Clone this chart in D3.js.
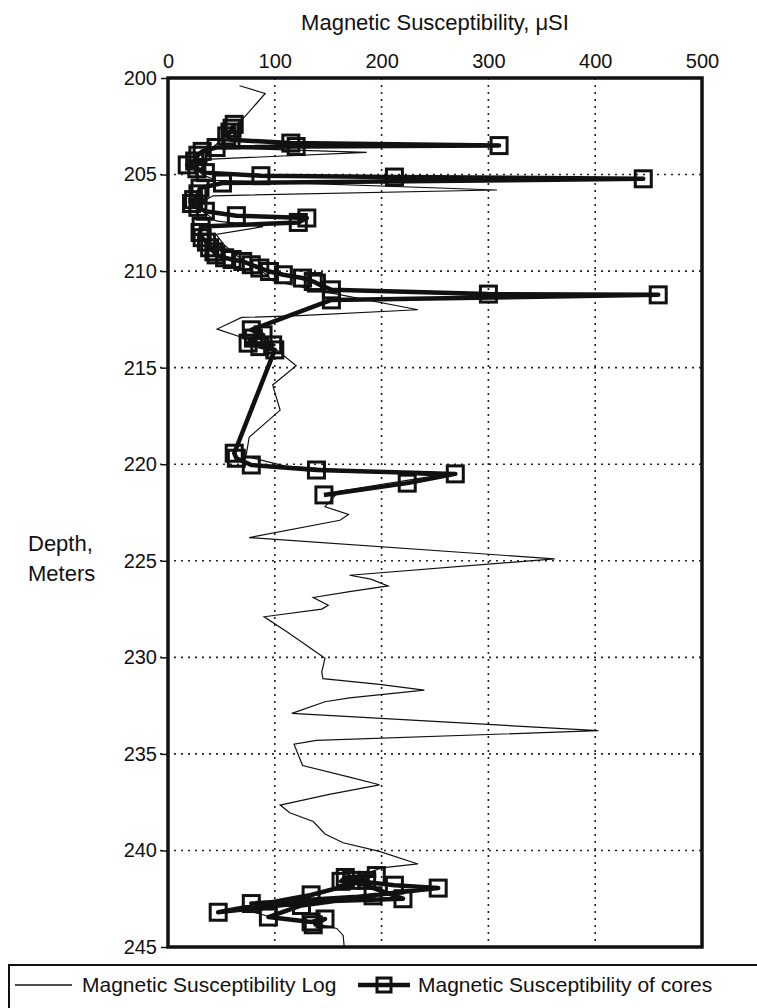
<!DOCTYPE html>
<meta charset="utf-8">
<style>
  body { margin: 0; background: #fff; }
  svg text { font-family: "Liberation Sans", Arial, sans-serif; fill: #111; }
</style>
<body>
<script src="https://cdn.jsdelivr.net/npm/d3@7"></script>
<script>
// depth ticks (m) and susceptibility ticks (uSI)
var depthTicks = [200, 205, 210, 215, 220, 225, 230, 235, 240, 245];
var suscTicks = [0, 100, 200, 300, 400, 500];

// thin log line: [depth, value]
var logDepth = [200.4, 200.8, 202.0, 202.7, 203.2, 203.6, 203.85, 204.2, 204.6, 205.0, 205.3, 205.8, 206.1, 206.5, 207.0, 207.4, 207.7, 208.1, 208.6, 209.1, 209.6, 210.0, 210.5, 211.0, 212.0, 212.3, 212.4, 213.0, 213.5, 214.0, 214.9, 215.9, 217.2, 218.6, 219.6, 220.1, 220.6, 221.4, 222.2, 222.6, 222.9, 223.8, 224.9, 225.75, 225.95, 226.3, 226.6, 226.9, 227.3, 227.5, 227.9, 228.7, 230.05, 230.75, 231.1, 231.4, 231.7, 232.1, 232.3, 232.9, 233.8, 234.3, 234.5, 235.6, 236.2, 236.6, 237.1, 237.65, 238.05, 238.5, 239.15, 239.6, 240.05, 240.7, 240.9, 241.4, 242.0, 242.6, 243.2, 243.5, 243.8, 244.04, 244.4, 245.0];
var logValue = [67, 91, 72, 58, 50, 42, 186, 40, 25, 32, 45, 308, 42, 30, 35, 45, 89, 45, 52, 62, 75, 88, 98, 140, 234, 123, 69, 46, 73, 100, 120, 98, 105, 76, 73, 110, 250, 160, 147, 169, 161, 76, 362, 170, 190, 206, 170, 136, 150, 144, 90, 112, 147, 144, 145, 198, 240, 170, 147, 116, 403, 139, 118, 126, 170, 198, 151, 105, 114, 136, 147, 164, 198, 234, 200, 175, 160, 120, 80, 100, 140, 158, 164, 165];

// cores, upper set: [depth, value]
var coreDepthA = [202.4, 202.6, 202.8, 203.0, 203.2, 203.37, 203.5, 203.55, 203.6, 203.8, 204.0, 204.3, 204.5, 204.7, 204.9, 205.06, 205.13, 205.22, 205.44, 205.7, 206.0, 206.3, 206.5, 206.7, 206.9, 207.13, 207.25, 207.48, 207.69, 208.0, 208.27, 208.5, 208.79, 209.0, 209.16, 209.31, 209.4, 209.5, 209.67, 209.84, 210.02, 210.19, 210.36, 210.54, 210.62, 210.97, 211.19, 211.23, 211.49, 213.04, 213.3, 213.47, 213.73, 213.82, 213.91, 214.08, 219.43, 219.69, 220.04, 220.3, 220.5, 220.98, 221.59];
var coreValueA = [62, 60, 58, 55, 59, 115, 310, 120, 45, 32, 28, 25, 18, 27, 35, 87, 212, 445, 51, 30, 28, 24, 22, 28, 35, 64, 130, 122, 31, 30, 32, 36, 39, 43, 45, 53, 60, 70, 78, 86, 95, 108, 126, 136, 139, 153, 300, 459, 153, 78, 89, 80, 75, 98, 86, 100, 62, 64, 78, 139, 269, 224, 146];

// cores, lower set
var coreDepthB = [241.3, 241.4, 241.6, 241.55, 242.3, 243.2, 241.95, 241.8, 241.55, 242.5, 242.75, 242.35, 242.85, 243.45, 243.7, 243.55, 243.85];
var coreValueB = [195, 166, 162, 186, 134, 47, 253, 212, 172, 220, 78, 192, 125, 94, 134, 147, 136];

var W = 757, H = 1008;
var margin = {top: 78, left: 168, right: 55, bottom: 61};

var svg = d3.select("body").append("svg")
  .attr("width", W)
  .attr("height", H);

var x = d3.scaleLinear().domain([0, 500]).range([margin.left, W - margin.right]);
var y = d3.scaleLinear().domain([200, 245]).range([margin.top, H - margin.bottom]);

// dotted grid
svg.append("g").selectAll("line").data(suscTicks.slice(1, -1)).enter().append("line")
  .attr("x1", d => x(d)).attr("x2", d => x(d))
  .attr("y1", y(200)).attr("y2", y(245))
  .attr("stroke", "#222").attr("stroke-width", 1.6).attr("stroke-dasharray", "2,5");
svg.append("g").selectAll("line").data(depthTicks.slice(1, -1)).enter().append("line")
  .attr("y1", d => y(d)).attr("y2", d => y(d))
  .attr("x1", x(0) - 8).attr("x2", x(500))
  .attr("stroke", "#222").attr("stroke-width", 1.6).attr("stroke-dasharray", "2,5");

// axes
var xAxis = d3.axisTop(x).tickValues(suscTicks).tickSize(0).tickPadding(10);
svg.append("g").attr("transform", "translate(0," + y(200) + ")").call(xAxis)
  .call(g => g.select(".domain").remove())
  .selectAll("text").attr("font-size", 20).style("font-family", "Liberation Sans, Arial, sans-serif");

var yAxis = d3.axisLeft(y).tickValues(depthTicks).tickSize(7).tickPadding(4);
svg.append("g").attr("transform", "translate(" + x(0) + ",0)").call(yAxis)
  .call(g => g.select(".domain").remove())
  .call(g => g.selectAll("line").attr("stroke", "#111").attr("stroke-width", 1.5))
  .selectAll("text").attr("font-size", 20).style("font-family", "Liberation Sans, Arial, sans-serif");

// log line
var logPts = logDepth.map((d, i) => [d, logValue[i]]);
var line = d3.line().x(d => x(d[1])).y(d => y(d[0]));
svg.append("path").datum(logPts)
  .attr("d", line)
  .attr("fill", "none").attr("stroke", "#111").attr("stroke-width", 1.2)
  .attr("stroke-linejoin", "miter");

// cores
var coresA = coreDepthA.map((d, i) => [d, coreValueA[i]]);
var coresB = coreDepthB.map((d, i) => [d, coreValueB[i]]);
[coresA, coresB].forEach(function (pts) {
  svg.append("path").datum(pts)
    .attr("d", line)
    .attr("fill", "none").attr("stroke", "#111").attr("stroke-width", 4.5)
    .attr("stroke-linejoin", "round");
  svg.append("g").selectAll("rect").data(pts).enter().append("rect")
    .attr("x", d => x(d[1]) - 8).attr("y", d => y(d[0]) - 8)
    .attr("width", 16).attr("height", 16)
    .attr("fill", "none").attr("stroke", "#111").attr("stroke-width", 3);
});

// plot frame
svg.append("rect")
  .attr("x", x(0)).attr("y", y(200))
  .attr("width", x(500) - x(0)).attr("height", y(245) - y(200))
  .attr("fill", "none").attr("stroke", "#111").attr("stroke-width", 3.5);

// titles
svg.append("text").attr("x", x(250)).attr("y", 30)
  .attr("text-anchor", "middle").attr("font-size", 22)
  .text("Magnetic Susceptibility, \u03bcSI");
svg.append("text").attr("x", 28).attr("y", 551).attr("font-size", 22).text("Depth,");
svg.append("text").attr("x", 28).attr("y", 581).attr("font-size", 22).text("Meters");

// legend
var lg = svg.append("g");
lg.append("rect").attr("x", 9).attr("y", 965).attr("width", 760).attr("height", 60)
  .attr("fill", "none").attr("stroke", "#111").attr("stroke-width", 2);
lg.append("line").attr("x1", 15).attr("x2", 72).attr("y1", 985).attr("y2", 985)
  .attr("stroke", "#111").attr("stroke-width", 1.5);
lg.append("text").attr("x", 82).attr("y", 992).attr("font-size", 21).text("Magnetic Susceptibility Log");
lg.append("line").attr("x1", 358).attr("x2", 410).attr("y1", 985).attr("y2", 985)
  .attr("stroke", "#111").attr("stroke-width", 4.5);
lg.append("rect").attr("x", 377).attr("y", 978).attr("width", 14).attr("height", 14)
  .attr("fill", "none").attr("stroke", "#111").attr("stroke-width", 3);
lg.append("text").attr("x", 418).attr("y", 992).attr("font-size", 21).text("Magnetic Susceptibility of cores");
</script>
</body>
